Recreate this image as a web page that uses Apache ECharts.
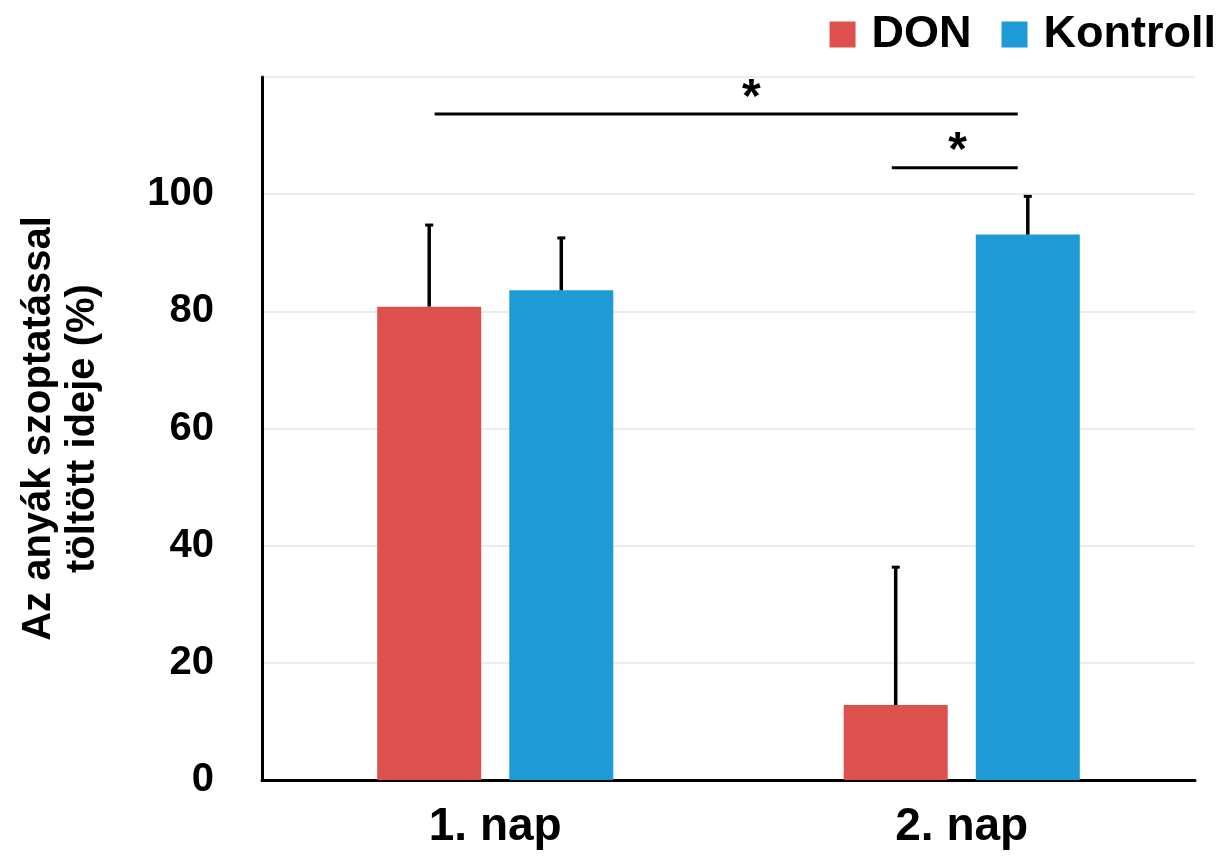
<!DOCTYPE html>
<html>
<head>
<meta charset="utf-8">
<script src="https://cdn.jsdelivr.net/npm/echarts@6/dist/echarts.min.js"></script>
<style>html,body{margin:0;padding:0;background:#fff;}#c{width:1227px;height:857px;}</style>
</head>
<body>
<div id="c"></div>
<script>
const categories = ['1. nap', '2. nap'];
const seriesNames = ['DON', 'Kontroll'];
const donValues = [80.8, 12.8];
const donErrorTop = [94.9, 36.5];
const kontrollValues = [83.6, 93.1];
const kontrollErrorTop = [92.7, 99.8];
// significance brackets: [xStart, xEnd, y] in category-units (0 = first category centre)
const brackets = [[-0.13, 1.12, 113.7], [0.85, 1.12, 104.5]];
const stars = [[0.549, 118.3, '*'], [0.991, 109.3, '*']];
const yTickMax = 100;

const FONT = '"Liberation Sans", Arial, sans-serif';
const RED = '#DE504D';
const BLUE = '#1E9AD7';
const BAR_W = 104;
const BAR_GAP = '27%';

const errData = [];
categories.forEach((c, i) => {
  errData.push([i, donValues[i], donErrorTop[i], 0]);
  errData.push([i, kontrollValues[i], kontrollErrorTop[i], 1]);
});

const chart = echarts.init(document.getElementById('c'), null, {renderer: 'canvas'});
chart.setOption({
  animation: false,
  backgroundColor: '#fff',
  legend: {
    data: seriesNames,
    right: 6, top: 7,
    icon: 'rect', itemWidth: 26, itemHeight: 26, itemGap: 30,
    textStyle: {fontFamily: FONT, fontWeight: 'bold', fontSize: 45, color: '#000', padding: [0, 0, 0, 11]}
  },
  grid: {left: 262, right: 32, top: 77, bottom: 77},
  xAxis: [{
    type: 'category', data: categories,
    axisLine: {lineStyle: {color: '#000', width: 3}},
    axisTick: {show: false},
    axisLabel: {fontFamily: FONT, fontWeight: 'bold', fontSize: 46, color: '#000', margin: 24}
  }, {
    type: 'value', min: -0.5, max: 1.5, show: false
  }],
  yAxis: {
    type: 'value', min: 0, max: 120, interval: 20,
    axisLine: {show: true, onZero: false, lineStyle: {color: '#000', width: 3}},
    axisTick: {show: false},
    splitLine: {lineStyle: {color: '#e6e6e6', width: 1.5}},
    axisLabel: {fontFamily: FONT, fontWeight: 'bold', fontSize: 40, color: '#000', margin: 48,
      formatter: v => v > yTickMax ? '' : String(v)},
    name: 'Az anyák szoptatással\ntöltött ideje (%)',
    nameLocation: 'middle', nameGap: 157, nameRotate: 90,
    nameTextStyle: {fontFamily: FONT, fontWeight: 'bold', fontSize: 40, lineHeight: 44, color: '#000', align: 'center'}
  },
  series: [
    {name: 'DON', type: 'bar', data: donValues, barWidth: BAR_W, barGap: BAR_GAP, itemStyle: {color: RED}},
    {name: 'Kontroll', type: 'bar', data: kontrollValues, barWidth: BAR_W, barGap: BAR_GAP, itemStyle: {color: BLUE}},
    {
      type: 'custom', z: 5, data: errData,
      renderItem: function (params, api) {
        const layout = api.barLayout({count: 2, barWidth: BAR_W, barGap: BAR_GAP});
        const s = api.value(3);
        const base = api.coord([api.value(0), api.value(1)]);
        const top = api.coord([api.value(0), api.value(2)]);
        const x = base[0] + layout[s].offsetCenter;
        return {type: 'group', children: [
          {type: 'line', shape: {x1: x, y1: base[1], x2: x, y2: top[1]}, style: {stroke: '#000', lineWidth: 3.5}},
          {type: 'line', shape: {x1: x - 4, y1: top[1] + 1, x2: x + 4, y2: top[1] + 1}, style: {stroke: '#000', lineWidth: 3}}
        ]};
      }
    },
    {
      type: 'custom', xAxisIndex: 1, z: 5, data: brackets,
      renderItem: function (params, api) {
        const a = api.coord([api.value(0), api.value(2)]);
        const b = api.coord([api.value(1), api.value(2)]);
        return {type: 'line', shape: {x1: a[0], y1: a[1], x2: b[0], y2: b[1]}, style: {stroke: '#000', lineWidth: 3}};
      }
    },
    {
      type: 'custom', xAxisIndex: 1, z: 5, data: stars,
      renderItem: function (params, api) {
        const p = api.coord([api.value(0), api.value(1)]);
        return {type: 'text', x: p[0], y: p[1] + 12, style: {text: stars[params.dataIndex][2], fontFamily: FONT, fontWeight: 'bold', fontSize: 48, fill: '#000', align: 'center', verticalAlign: 'middle'}};
      }
    }
  ]
});
</script>
</body>
</html>
